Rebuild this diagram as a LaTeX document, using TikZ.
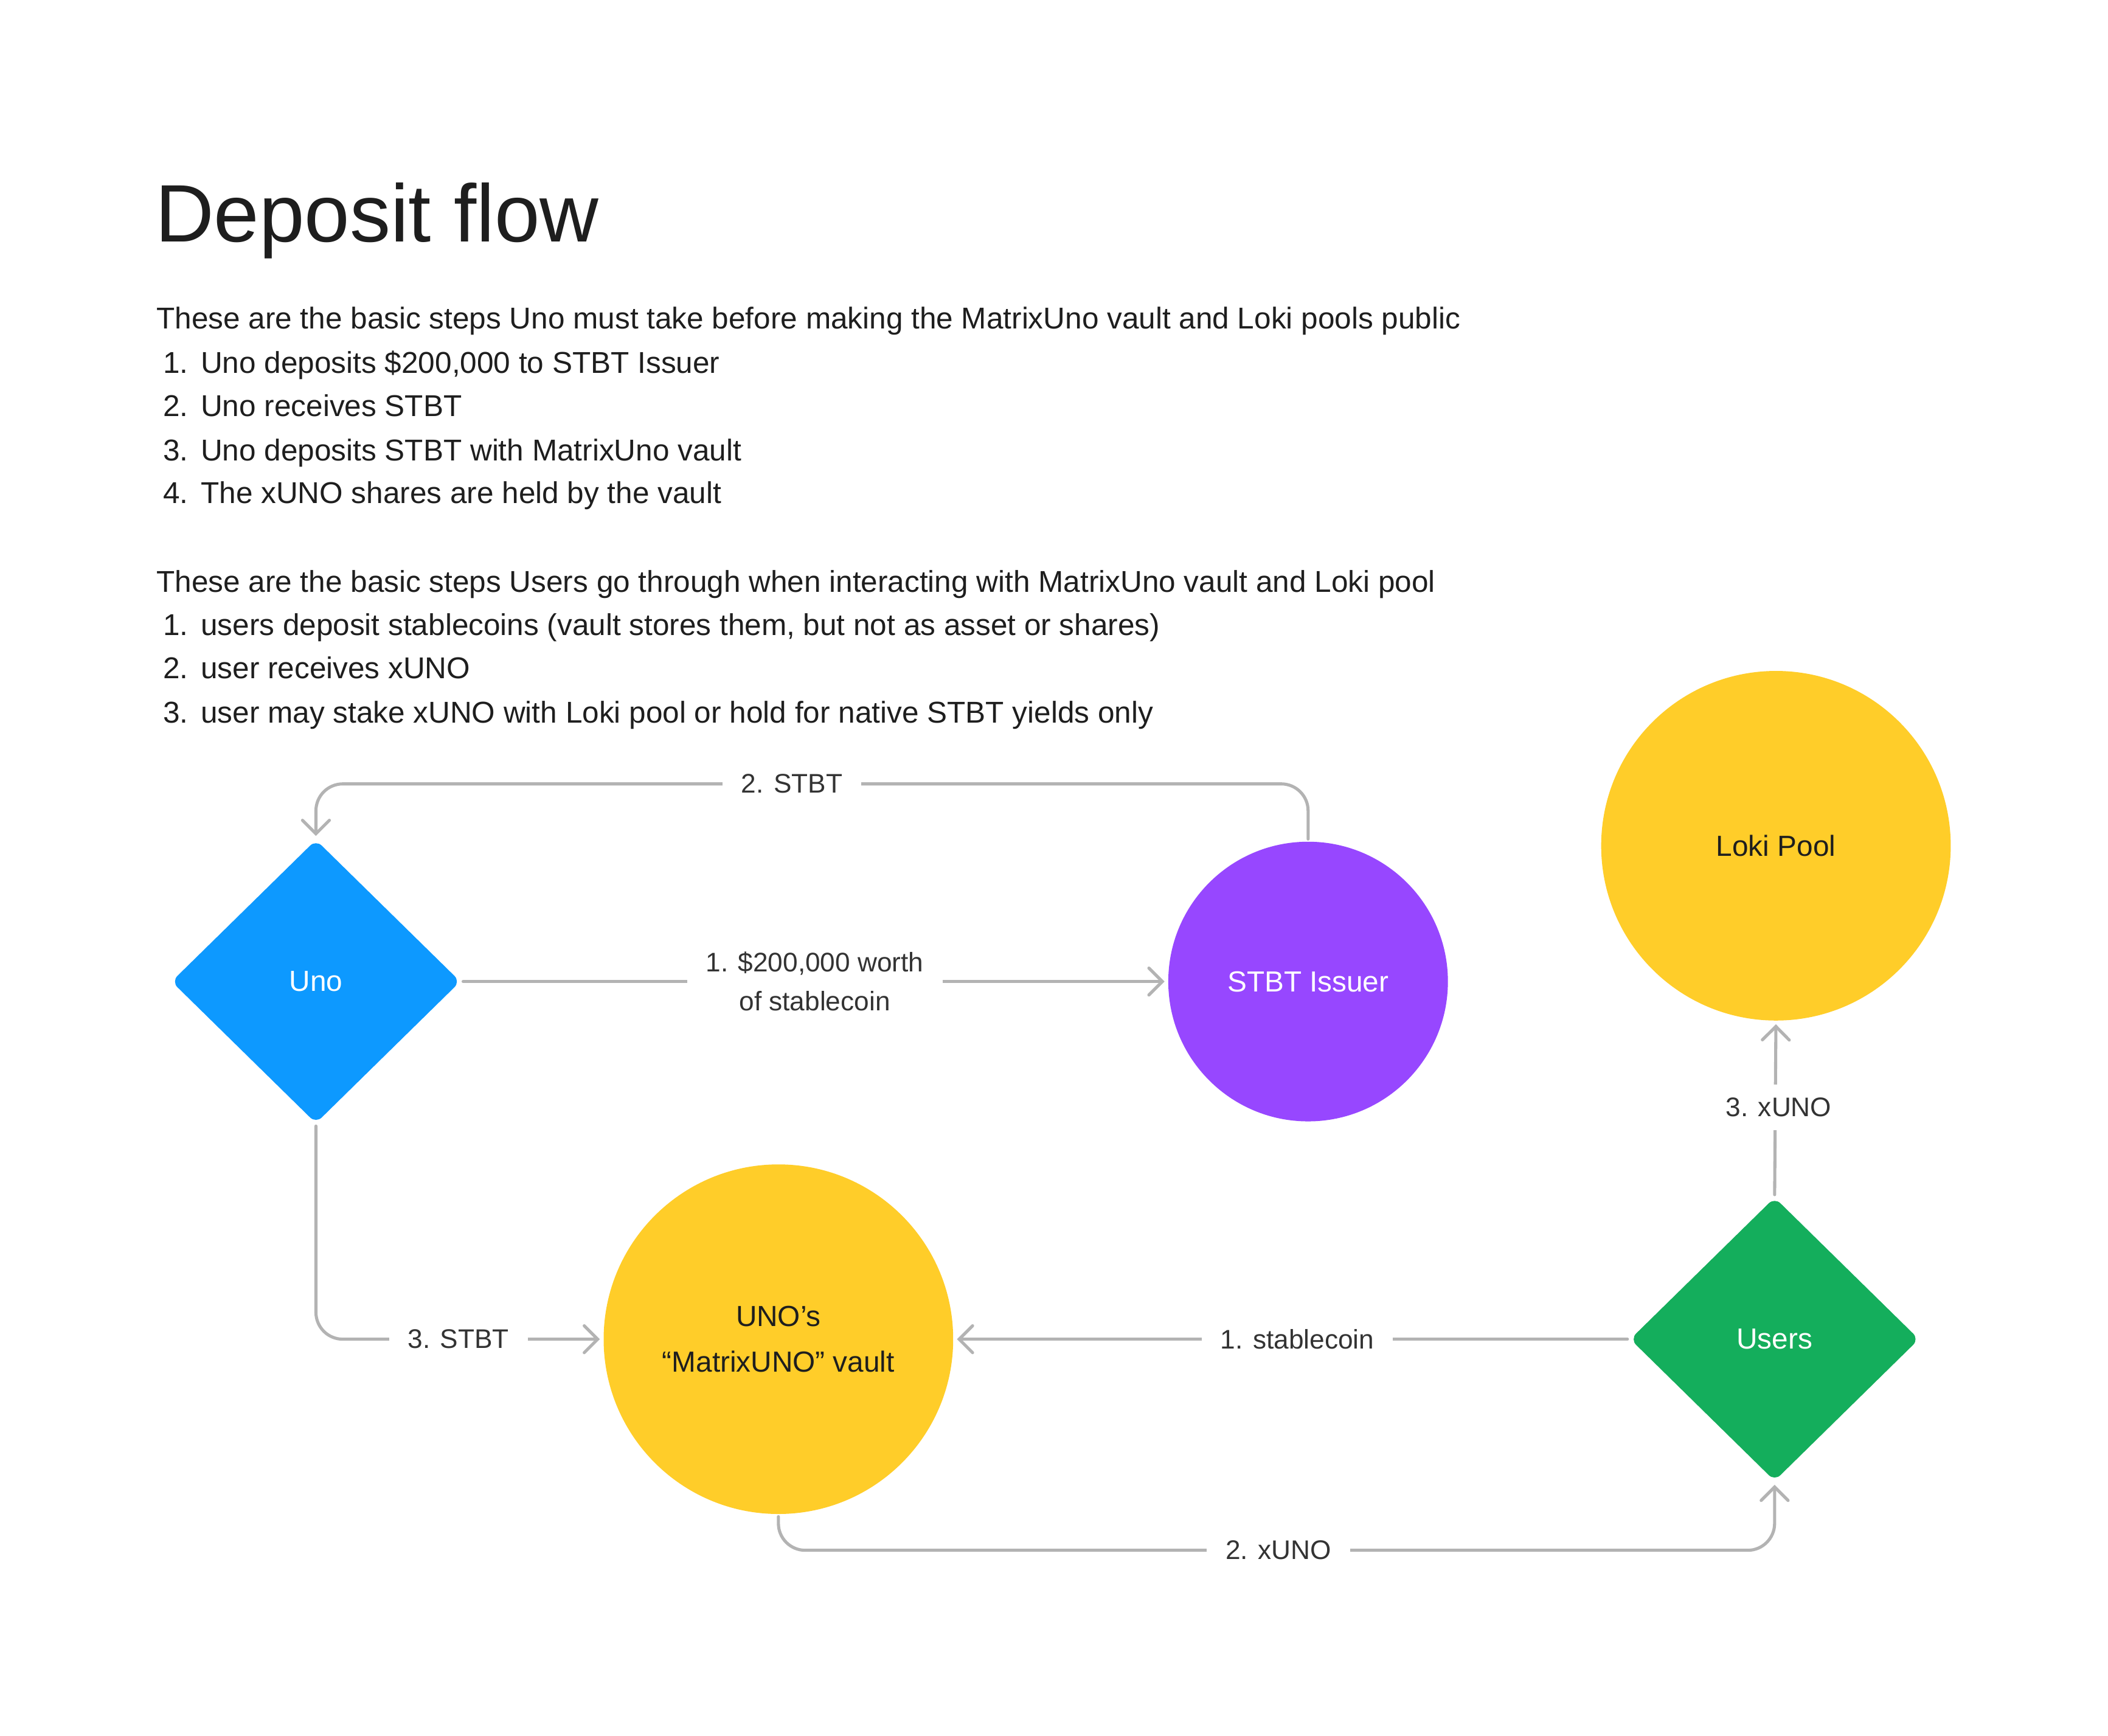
\documentclass[tikz,border=0pt]{standalone}
\usepackage{fontspec}
\setmainfont{Liberation Sans}
\usetikzlibrary{shapes.geometric,arrows.meta}
\definecolor{txt}{HTML}{1E1E1E}
\definecolor{lbltxt}{HTML}{333333}
\definecolor{conncol}{HTML}{B3B3B3}
\definecolor{ublue}{HTML}{0D99FF}
\definecolor{upurple}{HTML}{9747FF}
\definecolor{uyellow}{HTML}{FFCD29}
\definecolor{ugreen}{HTML}{14AE5C}
\begin{document}
\begin{tikzpicture}[x=0.5pt,y=-0.5pt,
  body/.style={anchor=base west, inner sep=0pt, font=\fontsize{11.2}{13}\selectfont, text=txt},
  titletext/.style={anchor=base west, inner sep=0pt, font=\fontsize{30.3}{36}\selectfont, text=txt},
  dia/.style={diamond, minimum width=107.5pt, minimum height=105.5pt, inner sep=0pt, rounded corners=3pt, font=\fontsize{10.8}{16}\selectfont},
  circ/.style={circle, inner sep=0pt, font=\fontsize{10.8}{16}\selectfont, align=center},
  conn/.style={draw=conncol, line width=1.15pt, line cap=round, rounded corners=10pt, shorten <=0.8pt, shorten >=1.2pt, -{Straight Barb[length=5pt,width=10pt,line cap=round]}},
  lbl/.style={fill=white, inner xsep=7pt, inner ysep=4pt, font=\fontsize{10}{14.5}\selectfont, text=lbltxt, align=center}
]
\useasboundingbox[fill=white] (0,0) rectangle (1568,1291);

% Title and text
\node[titletext] (title) at (115,180) {Deposit flow};
\node[body] (p1) at (116,244.5) {These are the basic steps Uno must take before making the MatrixUno vault and Loki pools public};
\node[body] (n11) at (121,277.5) {1.};
\node[body] (t11) at (149,277.5) {Uno deposits \$200,000 to STBT Issuer};
\node[body] (n12) at (121,309.5) {2.};
\node[body] (t12) at (149,309.5) {Uno receives STBT};
\node[body] (n13) at (121,342.5) {3.};
\node[body] (t13) at (149,342.5) {Uno deposits STBT with MatrixUno vault};
\node[body] (n14) at (121,374.5) {4.};
\node[body] (t14) at (149,374.5) {The xUNO shares are held by the vault};
\node[body] (p2) at (116,440.5) {These are the basic steps Users go through when interacting with MatrixUno vault and Loki pool};
\node[body] (n21) at (121,472.5) {1.};
\node[body] (t21) at (149,472.5) {users deposit stablecoins (vault stores them, but not as asset or shares)};
\node[body] (n22) at (121,504.5) {2.};
\node[body] (t22) at (149,504.5) {user receives xUNO};
\node[body] (n23) at (121,537.5) {3.};
\node[body] (t23) at (149,537.5) {user may stake xUNO with Loki pool or hold for native STBT yields only};

% Shapes
\node[dia, fill=ublue, text=white] (uno) at (235,730) {Uno};
\node[circ, fill=upurple, minimum size=104pt, text=white] (issuer) at (973,730) {STBT Issuer};
\node[circ, fill=uyellow, minimum size=130pt, text=txt] (loki) at (1321,629) {Loki Pool};
\node[circ, fill=uyellow, minimum size=130pt, text=txt] (vault) at (579,996) {UNO’s\\[1pt]“MatrixUNO” vault};
\node[dia, fill=ugreen, text=white] (users) at (1320,996) {Users};

% Connectors
\coordinate (c2) at (589,583);
\coordinate (c3) at (341,996);
\coordinate (c4) at (951,1153);
\draw[conn] (issuer.north) |- (c2) -| (uno.north);
\node[lbl] (l2) at (c2) {2. STBT};
\draw[conn] (uno.east) -- (issuer.west);
\node[lbl] (l1) at (606,730) {1. \$200,000 worth\\of stablecoin};
\draw[conn] (uno.south) |- (c3) -- (vault.west);
\node[lbl] (l3) at (c3) {3. STBT};
\draw[conn] (users.west) -- (vault.east);
\node[lbl] (l1b) at (965,996) {1. stablecoin};
\draw[conn] (vault.south) |- (c4) -| (users.south);
\node[lbl] (l4) at (c4) {2. xUNO};
\draw[conn] (users.north) -- (loki.south);
\node[lbl, inner ysep=5pt] (l5) at (1323,823.5) {3. xUNO};
\end{tikzpicture}
\end{document}
